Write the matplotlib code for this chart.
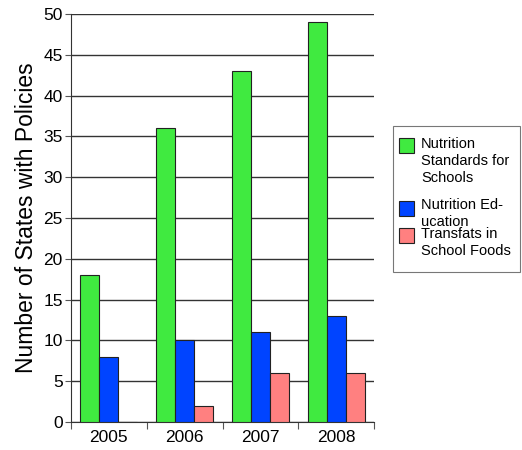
import matplotlib
matplotlib.use("Agg")
import matplotlib.pyplot as plt
from matplotlib.patches import Rectangle
import numpy as np

plt.rcParams['font.family'] = ['Liberation Sans', 'DejaVu Sans']

years = ["2005", "2006", "2007", "2008"]
series_labels = ["Nutrition\nStandards for\nSchools", "Nutrition Ed-\nucation", "Transfats in\nSchool Foods"]
nutrition_standards = [18, 36, 43, 49]
nutrition_education = [8, 10, 11, 13]
transfats = [0, 2, 6, 6]
colors = ["#40ea40", "#0044ff", "#ff8080"]

W, H = 522, 450
fig = plt.figure(figsize=(W / 100, H / 100), dpi=100)
ax = fig.add_axes([71 / W, 1 - 422 / H, (374 - 71) / W, (422 - 14) / H])

x = np.arange(len(years))
bw = 0.25
for i, vals in enumerate([nutrition_standards, nutrition_education, transfats]):
    ax.bar(x + 0.125 + bw * i + bw / 2, vals, width=bw, color=colors[i],
           edgecolor="#222222", linewidth=0.8, align="center", zorder=3)

ax.set_xlim(0, len(years))
ax.set_ylim(0, 50)
ax.set_yticks(np.arange(0, 51, 5))
ax.yaxis.grid(True, color="#333333", linewidth=1.0, zorder=0)
ax.set_axisbelow(True)

ax.set_xticks(np.arange(0, len(years) + 1))
ax.set_xticklabels([])
ax.set_xticks(x + 0.5, minor=True)
ax.set_xticklabels(years, minor=True)
ax.tick_params(axis="x", which="major", direction="out", length=5, color="#555555")
ax.tick_params(axis="x", which="minor", length=0, labelsize=12.5, pad=6)
ax.tick_params(axis="y", direction="out", length=4, labelsize=12.5, pad=2, color="#555555")

for s in ["top", "right"]:
    ax.spines[s].set_visible(False)
ax.spines["left"].set_color("#333333")
ax.spines["bottom"].set_color("#333333")

ax.set_ylabel("Number of States with Policies", fontsize=16.5, labelpad=4)

# Legend drawn in figure pixel coordinates
def fx(px):
    return px / W

def fy(py):
    return 1 - py / H

fig.patches.append(Rectangle((fx(393), fy(272)), fx(520) - fx(393), fy(126) - fy(272),
                             transform=fig.transFigure, facecolor="white",
                             edgecolor="#777777", linewidth=0.8))
square_tops = [138, 201, 228]
text_tops = [137, 198, 227]
for i, lbl in enumerate(series_labels):
    top = square_tops[i]
    fig.patches.append(Rectangle((fx(399), fy(top + 15)), fx(414) - fx(399), fy(top) - fy(top + 15),
                                 transform=fig.transFigure, facecolor=colors[i],
                                 edgecolor="#222222", linewidth=0.8))
    fig.text(fx(421), fy(text_tops[i]), lbl, fontsize=10.5, va="top", ha="left", linespacing=1.25)

fig.savefig("out.png", dpi=100)
